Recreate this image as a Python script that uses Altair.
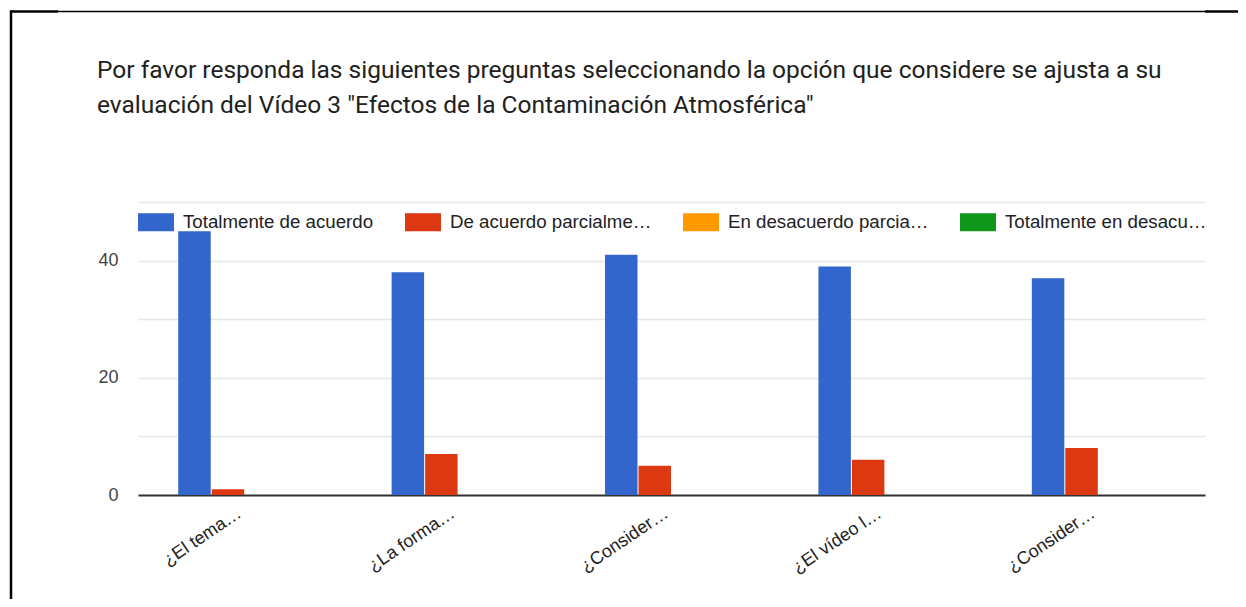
import json
import altair as alt
import pandas as pd

title_lines = [
    "Por favor responda las siguientes preguntas seleccionando la opción que considere se ajusta a su",
    'evaluación del Vídeo 3 "Efectos de la Contaminación Atmosférica"',
]
questions = ["q1", "q2", "q3", "q4", "q5"]
question_labels = ["¿El tema…", "¿La forma…", "¿Consider…", "¿El vídeo l…", "¿Consider…"]
series = [
    "Totalmente de acuerdo",
    "De acuerdo parcialmente",
    "En desacuerdo parcialmente",
    "Totalmente en desacuerdo",
]
colors = ["#3366CC", "#DC3912", "#FF9900", "#109618"]
totalmente_acuerdo = [45, 38, 41, 39, 37]
acuerdo_parcial = [1, 7, 5, 6, 8]
desacuerdo_parcial = [0, 0, 0, 0, 0]
totalmente_desacuerdo = [0, 0, 0, 0, 0]
y_ticks = [0, 10, 20, 30, 40, 50]

rows = []
for s, vals in zip(series, [totalmente_acuerdo, acuerdo_parcial, desacuerdo_parcial, totalmente_desacuerdo]):
    for q, v in zip(questions, vals):
        rows.append({"pregunta": q, "serie": s, "valor": v})
df = pd.DataFrame(rows)

label_expr = (
    json.dumps(question_labels, ensure_ascii=False)
    + "[indexof("
    + json.dumps(questions)
    + ", datum.value)]"
)

bars = alt.Chart(df).mark_bar().encode(
    x=alt.X(
        "pregunta:N",
        sort=questions,
        scale=alt.Scale(paddingInner=0.377, paddingOuter=0.1885),
        axis=alt.Axis(
            title=None,
            labelExpr=label_expr,
            labelAngle=326,
            labelAlign="right",
            labelBaseline="top",
            labelFont="Arial",
            labelFontSize=18,
            labelColor="#222222",
            ticks=False,
            domainColor="#333333",
            domainWidth=2,
            labelPadding=9,
            labelOffset=-10,
            grid=False,
            labelLimit=250,
        ),
    ),
    xOffset=alt.XOffset(
        "serie:N", sort=series, scale=alt.Scale(paddingInner=0.03, paddingOuter=0)
    ),
    y=alt.Y(
        "valor:Q",
        scale=alt.Scale(domain=[0, 50], nice=False),
        axis=alt.Axis(
            title=None,
            values=y_ticks,
            labelExpr="datum.value % 20 == 0 ? datum.label : ''",
            labelFont="Arial",
            labelFontSize=18,
            labelColor="#444444",
            labelPadding=20,
            ticks=False,
            domain=False,
            gridColor="#e6e6e6",
            gridWidth=1.5,
        ),
    ),
    color=alt.Color(
        "serie:N",
        sort=series,
        scale=alt.Scale(domain=series, range=colors),
        legend=alt.Legend(
            title=None,
            orient="none",
            legendX=0,
            legendY=2,
            direction="horizontal",
            columns=4,
            gridAlign="each",
            columnPadding=31,
            symbolType="M-1,-0.5L1,-0.5L1,0.5L-1,0.5Z",
            symbolSize=1296,
            symbolStrokeWidth=0,
            symbolOpacity=1,
            labelFont="Arial",
            labelFontSize=18.7,
            labelColor="#222222",
            labelLimit=203,
            labelOffset=9,
            padding=0,
        ),
    ),
)

one = pd.DataFrame({"k": [0]})
title_text = alt.Chart(one).mark_text(
    align="left",
    baseline="alphabetic",
    font="Roboto",
    fontSize=24.5,
    color="#212121",
    lineHeight=35.5,
).encode(x=alt.value(-41), y=alt.value(-124.5), text=alt.value(title_lines))

left_border = alt.Chart(one).mark_rule(color="#000000", strokeWidth=2.5).encode(
    x=alt.value(-127), y=alt.value(-191.5), y2=alt.value(420)
)
top_thin = alt.Chart(one).mark_rule(color="#000000", strokeWidth=1.5).encode(
    x=alt.value(-80), x2=alt.value(1067), y=alt.value(-190.5)
)
top_left = alt.Chart(one).mark_rule(color="#000000", strokeWidth=2.5).encode(
    x=alt.value(-128), x2=alt.value(-80), y=alt.value(-190.5)
)
top_right = alt.Chart(one).mark_rule(color="#000000", strokeWidth=2.5).encode(
    x=alt.value(1067), x2=alt.value(1120), y=alt.value(-190.5)
)

chart = (
    alt.layer(bars, title_text, left_border, top_thin, top_left, top_right)
    .properties(
        width=1067,
        height=293,
        padding={"left": 130, "top": 194, "right": 33, "bottom": 104},
        autosize=alt.AutoSizeParams(type="none"),
        background="white",
    )
    .configure_view(stroke=None)
)

chart.save("out.html", embed_options={"renderer": "svg", "actions": False})
